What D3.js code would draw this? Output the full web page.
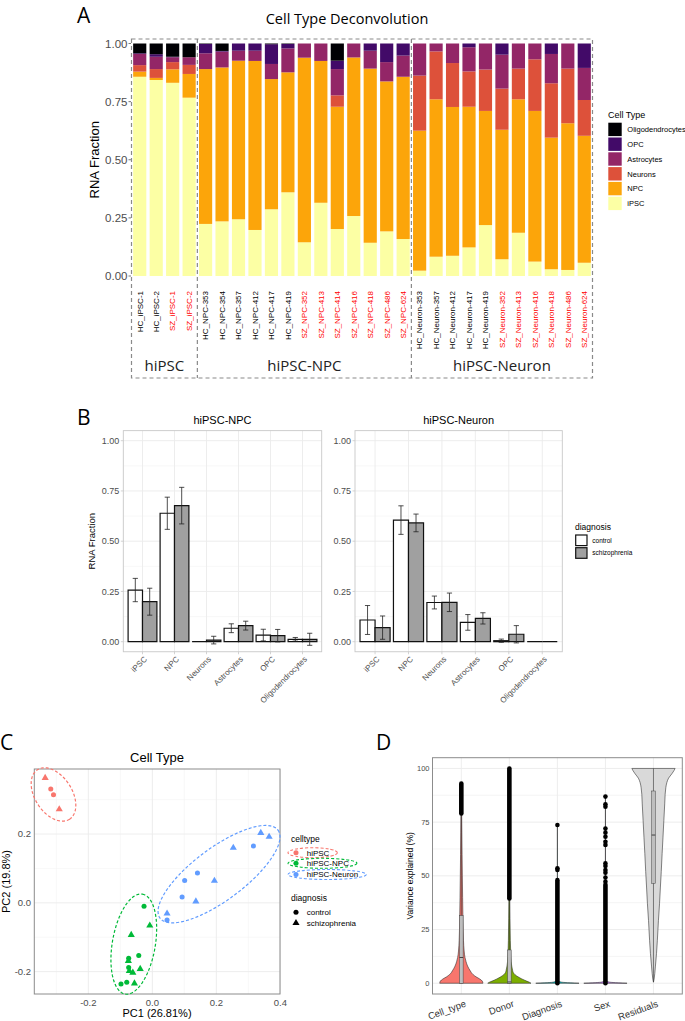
<!DOCTYPE html>
<html>
<head>
<meta charset="utf-8">
<script src="https://cdn.jsdelivr.net/npm/d3@7/dist/d3.min.js"></script>
<style>
body{margin:0;background:#fff;}
</style>
</head>
<body>
<script>
// ---------- panel A data ----------
var cellTypes = ["iPSC", "NPC", "Neurons", "Astrocytes", "OPC", "Oligodendrocytes"];
var cellColors = ["#FCFFA4", "#FCA50A", "#DD513A", "#932667", "#420A68", "#000004"];
var groupNames = ["hiPSC", "hiPSC-NPC", "hiPSC-Neuron"];
var sampleNames = ["HC_iPSC-1","HC_iPSC-2","SZ_iPSC-1","SZ_iPSC-2",
	"HC_NPC-353","HC_NPC-354","HC_NPC-357","HC_NPC-412","HC_NPC-417","HC_NPC-419",
	"SZ_NPC-352","SZ_NPC-413","SZ_NPC-414","SZ_NPC-416","SZ_NPC-418","SZ_NPC-486","SZ_NPC-624",
	"HC_Neuron-353","HC_Neuron-357","HC_Neuron-412","HC_Neuron-417","HC_Neuron-419",
	"SZ_Neuron-352","SZ_Neuron-413","SZ_Neuron-416","SZ_Neuron-418","SZ_Neuron-486","SZ_Neuron-624"];
var sampleGroup = [0,0,0,0, 1,1,1,1,1,1,1,1,1,1,1,1,1, 2,2,2,2,2,2,2,2,2,2,2];
var fracIPSC    = [0.857,0.843,0.831,0.767, 0.224,0.235,0.244,0.198,0.287,0.360,0.145,0.315,0.202,0.258,0.143,0.192,0.159, 0.023,0.083,0.087,0.123,0.219,0.072,0.186,0.062,0.029,0.026,0.057];
var fracNPC     = [0.022,0.009,0.058,0.102, 0.666,0.662,0.682,0.727,0.560,0.516,0.794,0.610,0.526,0.682,0.749,0.645,0.698, 0.602,0.677,0.640,0.605,0.491,0.557,0.574,0.648,0.566,0.631,0.546];
var fracNeurons = [0.028,0.038,0.031,0.039, 0,0,0,0,0,0,0,0,0.049,0,0,0,0, 0.237,0.206,0.189,0.152,0.178,0.177,0.132,0.222,0.234,0.235,0.154];
var fracAstro   = [0.048,0.053,0.021,0.033, 0.068,0.068,0.043,0.044,0.065,0.103,0.061,0.075,0.113,0.060,0.077,0.083,0.091, 0.138,0.034,0.084,0.104,0.112,0.146,0.108,0.068,0.126,0.108,0.138];
var fracOPC     = [0.003,0.011,0.002,0, 0.040,0.003,0.031,0.031,0.085,0.019,0,0,0.036,0,0.031,0.080,0.052, 0,0,0,0.016,0,0.048,0,0,0.045,0,0.105];
var fracOligo   = [0.042,0.046,0.057,0.059, 0.002,0.032,0,0,0.003,0.002,0,0,0.074,0,0,0,0, 0,0,0,0,0,0,0,0,0,0,0];
var fracTicks = [0, 0.25, 0.5, 0.75, 1];

// ---------- panel B data ----------
var npcCtrl    = [0.257, 0.639, 0.000, 0.067, 0.033, 0.012];
var npcCtrlErr = [0.058, 0.080, 0.000, 0.022, 0.029, 0.009];
var npcSz      = [0.199, 0.677, 0.008, 0.080, 0.030, 0.012];
var npcSzErr   = [0.067, 0.091, 0.019, 0.022, 0.031, 0.030];
var neuCtrl    = [0.108, 0.605, 0.195, 0.096, 0.005, 0.000];
var neuCtrlErr = [0.072, 0.071, 0.032, 0.039, 0.008, 0.000];
var neuSz      = [0.070, 0.591, 0.196, 0.116, 0.037, 0.000];
var neuSzErr   = [0.058, 0.044, 0.046, 0.028, 0.043, 0.000];
var diagnoses = ["control", "schizophrenia"];

// ---------- panel C data ----------
var pcaX    = [-0.335,-0.3175,-0.309,-0.291,
	-0.026,-0.0425,-0.074,-0.074,-0.098,-0.080, -0.008,-0.066,-0.075,-0.038,-0.072,-0.061,-0.056,
	0.316,0.141,0.101,0.093,0.046, 0.339,0.365,0.253,0.194,0.136,0.046];
var pcaY    = [0.363,0.331,0.314,0.272,
	-0.010,-0.153,-0.161,-0.188,-0.236,-0.231, -0.066,-0.093,-0.169,-0.192,-0.198,-0.203,-0.234,
	0.165,0.087,0.065,0.017,-0.050, 0.2035,0.192,0.160,0.064,0.004,-0.031];
var pcaType = [0,0,0,0, 1,1,1,1,1,1,1,1,1,1,1,1,1, 2,2,2,2,2,2,2,2,2,2,2];
var pcaDiag = [1,0,0,1, 0,0,0,0,0,0,1,1,1,1,1,1,1, 0,0,0,0,0,1,1,1,1,1,1];
var typeColors = ["#F8766D", "#00BA38", "#619CFF"];
// ellipse per cell type: centre and two conjugate half axes, in PC units
var ellCx = [-0.309, -0.058, 0.2084];
var ellCy = [0.315, -0.120, 0.0834];
var ellAx = [0.0503, 0.027, 0.1844];
var ellAy = [-0.0718, 0.1453, 0.1279];
var ellBx = [-0.0484, 0.0662, 0.0484];
var ellBy = [-0.0294, -0.0106, -0.0608];
var pcTicks = [-0.2, 0, 0.2, 0.4];
var pcMinor = [-0.3, -0.1, 0.1, 0.3];

// ---------- panel D data ----------
var varNames = ["Cell_type", "Donor", "Diagnosis", "Sex", "Residuals"];
var varColors = ["#F8766D", "#7CAE00", "#00BFC4", "#C77CFF", "#D9D9D9"];
var violinCell = [[0,1],[1,0.97],[2,0.85],[3,0.68],[4,0.55],[5,0.46],[6,0.4],[7,0.34],[8,0.29],[10,0.22],[12,0.17],[15,0.13],[20,0.1],[25,0.085],[30,0.075],[40,0.06],[50,0.047],[60,0.035],[70,0.025],[80,0.015],[88,0.008],[93,0]];
var violinDonor = [[0,1],[0.5,0.92],[1,0.8],[2,0.58],[3,0.4],[4,0.26],[5,0.18],[6,0.15],[8,0.11],[10,0.085],[15,0.06],[20,0.045],[30,0.03],[40,0.02],[60,0.012],[80,0.008],[100,0]];
var violinDiag = [[0,1],[0.2,0.6],[0.5,0.2],[1,0.06],[2,0.02],[5,0.01],[20,0.006],[50,0.004],[73.7,0]];
var violinSex = [[0,1],[0.2,0.6],[0.5,0.2],[1,0.06],[2,0.02],[5,0.01],[20,0.006],[50,0.004],[86.9,0]];
var violinResid = [[0.5,0],[2,0.03],[4.5,0.06],[8,0.09],[13.8,0.14],[20,0.18],[29.3,0.23],[37,0.28],[44.8,0.32],[52,0.36],[60.3,0.4],[68,0.44],[75.8,0.48],[83.5,0.52],[88,0.54],[91,0.57],[93.5,0.62],[95.5,0.7],[97.5,0.85],[99,0.95],[100,1]];
var boxLo = [0, 0, 0, 0, 46.5];
var boxMed = [12, 0.6, 0, 0, 69];
var boxHi = [31.5, 15.5, 0, 0, 89.5];
var whiskLo = [0, 0, 0, 0, 0.5];
var whiskHi = [79, 39, 0, 0, 100];
var denseLo = [79, 39.5, 0, 0];
var denseHi = [93, 100, 48, 45.8];
var outVar = [2,2,2, 3,3,3,3,3,3, 3,3,3,3,3, 3,3,3];
var outVal = [52.7,53.5,73.7, 47.3,49.2,51.5,52.7,54.6,55.8, 64.4,65.9,68.2,70.1,72.0, 82.2,83.3,86.9];
var varTicks = [0, 25, 50, 75, 100];

var FONT = '"Liberation Sans", Arial, Helvetica, sans-serif';
var FONT2 = '"Open Sans", "Liberation Sans", sans-serif';

var svg = d3.select('body').append('svg')
	.attr('width', 685).attr('height', 1021)
	.style('font-family', FONT);
svg.append('rect').attr('width', 685).attr('height', 1021).attr('fill', '#fff');

function panelLetter(t, x, y){
	svg.append('text').attr('x', x).attr('y', y).text(t)
		.style('font-family', FONT2).style('font-size', '21px').attr('fill', '#000');
}
panelLetter('A', 77, 22.5);
panelLetter('B', 77, 425);
panelLetter('C', 0, 750);
panelLetter('D', 376, 750);

// ================= PANEL A =================
var gA = svg.append('g');
var xA = d3.scaleBand().domain(sampleNames).range([131.5, 592.5]).paddingInner(0.2).paddingOuter(0.1);
var yA = d3.scaleLinear().domain([0, 1]).range([276, 43.5]);
var color = d3.scaleOrdinal().domain(cellTypes).range(cellColors);

var rowsA = sampleNames.map(function(s, i){
	return {sample: s, iPSC: fracIPSC[i], NPC: fracNPC[i], Neurons: fracNeurons[i],
		Astrocytes: fracAstro[i], OPC: fracOPC[i], Oligodendrocytes: fracOligo[i]};
});
var stackA = d3.stack().keys(cellTypes)(rowsA);

gA.selectAll('g.layer').data(stackA).enter().append('g')
	.attr('fill', function(d){ return color(d.key); })
	.selectAll('rect').data(function(d){ return d; }).enter().append('rect')
	.attr('x', function(d){ return xA(d.data.sample); })
	.attr('width', xA.bandwidth())
	.attr('y', function(d){ return yA(d[1]); })
	.attr('height', function(d){ return Math.max(0, yA(d[0]) - yA(d[1])); });

gA.append('text').attr('x', 347).attr('y', 23.5).attr('text-anchor', 'middle')
	.style('font-family', FONT2).style('font-size', '14.5px').text('Cell Type Deconvolution');

gA.selectAll('line.ytick').data(fracTicks).enter().append('line')
	.attr('x1', 128.5).attr('x2', 131).attr('y1', yA).attr('y2', yA)
	.attr('stroke', '#555').attr('stroke-width', 0.8);
gA.selectAll('text.ytick').data(fracTicks).enter().append('text')
	.attr('x', 127.5).attr('y', yA).attr('dy', '0.35em').attr('text-anchor', 'end')
	.attr('fill', '#4D4D4D').style('font-size', '11.5px')
	.text(function(d){ return d.toFixed(2); });
gA.append('text').attr('transform', 'translate(99,' + yA(0.5) + ') rotate(-90)')
	.attr('text-anchor', 'middle').style('font-size', '13px').text('RNA Fraction');

gA.selectAll('text.sample').data(sampleNames).enter().append('text')
	.attr('transform', function(d){ return 'translate(' + (xA(d) + xA.bandwidth() / 2) + ',291) rotate(-90)'; })
	.attr('text-anchor', 'end').attr('dy', '0.35em').style('font-size', '8px')
	.attr('fill', function(d){ return d.indexOf('SZ') === 0 ? '#FF0000' : '#000'; })
	.text(function(d){ return d; });

// dashed group boxes
var gapA = (xA.step() - xA.bandwidth()) / 2;
var groupBounds = groupNames.map(function(g, gi){
	var idx = sampleNames.filter(function(s, i){ return sampleGroup[i] === gi; });
	return {name: g, x0: xA(idx[0]) - gapA, x1: xA(idx[idx.length - 1]) + xA.bandwidth() + gapA};
});
var boxTop = 39, boxBottom = 378;
gA.append('rect').attr('x', groupBounds[0].x0).attr('y', boxTop)
	.attr('width', groupBounds[2].x1 - groupBounds[0].x0).attr('height', boxBottom - boxTop)
	.attr('fill', 'none').attr('stroke', '#8a8a8a').attr('stroke-width', 1.2).attr('stroke-dasharray', '4,3');
gA.selectAll('line.div').data(groupBounds.slice(1)).enter().append('line')
	.attr('x1', function(d){ return d.x0; }).attr('x2', function(d){ return d.x0; })
	.attr('y1', boxTop).attr('y2', boxBottom)
	.attr('stroke', '#8a8a8a').attr('stroke-width', 1.2).attr('stroke-dasharray', '4,3');
gA.selectAll('text.grp').data(groupBounds).enter().append('text')
	.attr('x', function(d){ return (d.x0 + d.x1) / 2; }).attr('y', 371)
	.attr('text-anchor', 'middle').style('font-family', FONT2).style('font-size', '15px')
	.attr('fill', '#222').text(function(d){ return d.name; });

// legend A
var legA = gA.append('g');
legA.append('text').attr('x', 608).attr('y', 117.5).style('font-size', '9px').text('Cell Type');
var legOrder = cellTypes.slice().reverse();
legA.selectAll('rect').data(legOrder).enter().append('rect')
	.attr('x', 608.3).attr('y', function(d, i){ return 122.7 + i * 14.8; })
	.attr('width', 13.4).attr('height', 13.4).attr('fill', color);
legA.selectAll('text.item').data(legOrder).enter().append('text')
	.attr('x', 627.3).attr('y', function(d, i){ return 122.7 + i * 14.8 + 9.5; })
	.style('font-size', '7.5px').text(function(d){ return d; });

// ================= PANEL B =================
var yB = d3.scaleLinear().domain([0, 1]).range([641.7, 440.7]);
function drawB(x0, x1, title, ctrl, ctrlErr, sz, szErr, axisTitle){
	var g = svg.append('g');
	var x = d3.scalePoint().domain(cellTypes).range([x0, x1]).padding(0.6);
	var step = x.step();
	var top = yB(1.05), bot = yB(-0.05);
	g.selectAll('line.hmin').data([0.125, 0.375, 0.625, 0.875]).enter().append('line')
		.attr('x1', x0).attr('x2', x1).attr('y1', yB).attr('y2', yB)
		.attr('stroke', '#F4F4F4').attr('stroke-width', 0.6);
	g.selectAll('line.hmaj').data(fracTicks).enter().append('line')
		.attr('x1', x0).attr('x2', x1).attr('y1', yB).attr('y2', yB)
		.attr('stroke', '#EBEBEB').attr('stroke-width', 0.9);
	g.selectAll('line.v').data(cellTypes).enter().append('line')
		.attr('x1', x).attr('x2', x).attr('y1', top).attr('y2', bot)
		.attr('stroke', '#EBEBEB').attr('stroke-width', 0.9);
	g.append('rect').attr('x', x0).attr('y', top).attr('width', x1 - x0).attr('height', bot - top)
		.attr('fill', 'none').attr('stroke', '#C8C8C8').attr('stroke-width', 0.9);

	var bw = step * 0.45;
	var bars = [];
	cellTypes.forEach(function(c, i){
		bars.push({cx: x(c) - bw / 2, v: ctrl[i], e: ctrlErr[i], fill: '#FFFFFF'});
		bars.push({cx: x(c) + bw / 2, v: sz[i], e: szErr[i], fill: '#A0A0A0'});
	});
	g.selectAll('path.bar').data(bars).enter().append('path')
		.attr('d', function(d){
			var l = d.cx - bw / 2, r = d.cx + bw / 2;
			return 'M' + l + ',' + yB(0) + 'H' + r + 'V' + yB(d.v) + 'H' + l + 'Z';
		})
		.attr('fill', function(d){ return d.fill; })
		.attr('stroke', '#111').attr('stroke-width', 1.2);
	var eb = bars.filter(function(d){ return d.e > 0; });
	g.selectAll('path.err').data(eb).enter().append('path')
		.attr('d', function(d){
			var a = yB(d.v + d.e), b = yB(d.v - d.e), w = 2.6;
			return 'M' + d.cx + ',' + a + 'V' + b +
				'M' + (d.cx - w) + ',' + a + 'H' + (d.cx + w) +
				'M' + (d.cx - w) + ',' + b + 'H' + (d.cx + w);
		})
		.attr('fill', 'none').attr('stroke', '#222').attr('stroke-width', 0.8);

	g.selectAll('text.yt').data(fracTicks).enter().append('text')
		.attr('x', x0 - 4).attr('y', yB).attr('dy', '0.35em').attr('text-anchor', 'end')
		.attr('fill', '#4D4D4D').style('font-size', '9px')
		.text(function(d){ return d.toFixed(2); });
	g.selectAll('line.yt').data(fracTicks).enter().append('line')
		.attr('x1', x0 - 2.5).attr('x2', x0).attr('y1', yB).attr('y2', yB)
		.attr('stroke', '#C8C8C8').attr('stroke-width', 0.8);
	g.selectAll('line.xt').data(cellTypes).enter().append('line')
		.attr('x1', x).attr('x2', x).attr('y1', bot).attr('y2', bot + 2.5)
		.attr('stroke', '#C8C8C8').attr('stroke-width', 0.8);
	g.selectAll('text.xt').data(cellTypes).enter().append('text')
		.attr('transform', function(d){ return 'translate(' + (x(d) + 3) + ',' + (bot + 6) + ') rotate(-45)'; })
		.attr('text-anchor', 'end').attr('dy', '0.35em').attr('fill', '#4D4D4D')
		.style('font-size', '8px').text(function(d){ return d; });
	g.append('text').attr('x', (x0 + x1) / 2).attr('y', 424).attr('text-anchor', 'middle')
		.style('font-size', '11px').text(title);
	if(axisTitle){
		g.append('text').attr('transform', 'translate(94.5,' + yB(0.5) + ') rotate(-90)')
			.attr('text-anchor', 'middle').style('font-size', '9.5px').text(axisTitle);
	}
}
drawB(123.3, 321.7, 'hiPSC-NPC', npcCtrl, npcCtrlErr, npcSz, npcSzErr, 'RNA Fraction');
drawB(355, 562.3, 'hiPSC-Neuron', neuCtrl, neuCtrlErr, neuSz, neuSzErr, null);

var legB = svg.append('g');
legB.append('text').attr('x', 575).attr('y', 529.5).style('font-size', '8.5px').text('diagnosis');
legB.selectAll('rect').data(diagnoses).enter().append('rect')
	.attr('x', 575.7).attr('y', function(d, i){ return 535 + i * 12.7; })
	.attr('width', 11.3).attr('height', 10.6)
	.attr('fill', function(d, i){ return i ? '#A0A0A0' : '#FFFFFF'; })
	.attr('stroke', '#111').attr('stroke-width', 1.2);
legB.selectAll('text.item').data(diagnoses).enter().append('text')
	.attr('x', 592.3).attr('y', function(d, i){ return 540.3 + i * 12.7; }).attr('dy', '0.35em')
	.style('font-size', '6.5px').text(function(d){ return d; });

// ================= PANEL C =================
var gC = svg.append('g');
var xC = d3.scaleLinear().domain([-0.369, 0.399]).range([34.3, 280]);
var yC = d3.scaleLinear().domain([-0.265, 0.389]).range([994, 769]);
gC.selectAll('line.xmin').data(pcMinor).enter().append('line')
	.attr('x1', xC).attr('x2', xC).attr('y1', 769).attr('y2', 994).attr('stroke', '#F4F4F4').attr('stroke-width', 0.6);
gC.selectAll('line.ymin').data([-0.1, 0.1, 0.3]).enter().append('line')
	.attr('x1', 34.3).attr('x2', 280).attr('y1', yC).attr('y2', yC).attr('stroke', '#F4F4F4').attr('stroke-width', 0.6);
gC.selectAll('line.xmaj').data(pcTicks).enter().append('line')
	.attr('x1', xC).attr('x2', xC).attr('y1', 769).attr('y2', 994).attr('stroke', '#EBEBEB').attr('stroke-width', 0.9);
gC.selectAll('line.ymaj').data([-0.2, 0, 0.2]).enter().append('line')
	.attr('x1', 34.3).attr('x2', 280).attr('y1', yC).attr('y2', yC).attr('stroke', '#EBEBEB').attr('stroke-width', 0.9);
gC.append('rect').attr('x', 34.3).attr('y', 769).attr('width', 280 - 34.3).attr('height', 994 - 769)
	.attr('fill', 'none').attr('stroke', '#8C8C8C').attr('stroke-width', 1);

var tSteps = d3.range(0, 101).map(function(k){ return k / 100 * 2 * Math.PI; });
var ellLine = d3.line().curve(d3.curveLinearClosed);
gC.selectAll('path.ell').data(typeColors).enter().append('path')
	.attr('d', function(c, i){
		return ellLine(tSteps.map(function(t){
			return [xC(ellCx[i] + ellAx[i] * Math.cos(t) + ellBx[i] * Math.sin(t)),
				yC(ellCy[i] + ellAy[i] * Math.cos(t) + ellBy[i] * Math.sin(t))];
		}));
	})
	.attr('fill', 'none').attr('stroke', function(c){ return c; })
	.attr('stroke-width', 1.2).attr('stroke-dasharray', '3,2');

var circleSym = d3.symbol().type(d3.symbolCircle).size(20);
var triSym = d3.symbol().type(d3.symbolTriangle).size(22);
gC.selectAll('path.pt').data(pcaX).enter().append('path')
	.attr('transform', function(d, i){ return 'translate(' + xC(d) + ',' + yC(pcaY[i]) + ')'; })
	.attr('d', function(d, i){ return pcaDiag[i] ? triSym() : circleSym(); })
	.attr('fill', function(d, i){ return typeColors[pcaType[i]]; });

gC.selectAll('text.xt').data(pcTicks).enter().append('text')
	.attr('x', xC).attr('y', 1006).attr('text-anchor', 'middle').attr('fill', '#4D4D4D')
	.style('font-size', '9.5px').text(function(d){ return d.toFixed(1); });
gC.selectAll('text.yt').data([-0.2, 0, 0.2]).enter().append('text')
	.attr('x', 31).attr('y', yC).attr('dy', '0.35em').attr('text-anchor', 'end').attr('fill', '#4D4D4D')
	.style('font-size', '9.5px').text(function(d){ return d.toFixed(1); });
gC.append('text').attr('x', 157).attr('y', 1017).attr('text-anchor', 'middle')
	.style('font-size', '11px').text('PC1 (26.81%)');
gC.append('text').attr('transform', 'translate(10,' + ((769 + 994) / 2) + ') rotate(-90)')
	.attr('text-anchor', 'middle').style('font-size', '11px').text('PC2 (19.8%)');
gC.append('text').attr('x', 157).attr('y', 762).attr('text-anchor', 'middle')
	.style('font-size', '13px').text('Cell Type');

// legend C
var legC = gC.append('g');
legC.append('text').attr('x', 291).attr('y', 842).style('font-size', '8.5px').text('celltype');
var legCy = [852.7, 863.3, 874.5];
groupNames.forEach(function(name, i){
	var t = legC.append('text').attr('x', 306.7).attr('y', legCy[i]).attr('dy', '0.35em')
		.style('font-size', '8px').text(name);
	var tw = t.node().getComputedTextLength();
	var l = 288, r = 306.7 + tw + 8;
	legC.append('ellipse').attr('cx', (l + r) / 2).attr('cy', legCy[i])
		.attr('rx', (r - l) / 2).attr('ry', 5)
		.attr('fill', 'none').attr('stroke', typeColors[i]).attr('stroke-width', 1.1).attr('stroke-dasharray', '3,2');
	legC.append('path').attr('transform', 'translate(296,' + legCy[i] + ')')
		.attr('d', circleSym()).attr('fill', typeColors[i]);
});
legC.append('text').attr('x', 291).attr('y', 901).style('font-size', '8.5px').text('diagnosis');
diagnoses.forEach(function(name, i){
	var yy = 912.3 + i * 10.7;
	legC.append('path').attr('transform', 'translate(296,' + yy + ')')
		.attr('d', i ? triSym() : circleSym()).attr('fill', '#000');
	legC.append('text').attr('x', 306.7).attr('y', yy).attr('dy', '0.35em')
		.style('font-size', '8px').text(name);
});

// ================= PANEL D =================
var gD = svg.append('g');
var xD = d3.scalePoint().domain(varNames).range([432.5, 682.3]).padding(0.6);
var yD = d3.scaleLinear().domain([-5, 105]).range([994, 757.7]);
var halfW = xD.step() * 0.45;
gD.selectAll('line.h').data(d3.range(0, 101, 12.5)).enter().append('line')
	.attr('x1', 432.5).attr('x2', 682.3).attr('y1', yD).attr('y2', yD)
	.attr('stroke', function(d){ return d % 25 === 0 ? '#EBEBEB' : '#F4F4F4'; }).attr('stroke-width', 0.9);
gD.selectAll('line.v').data(varNames).enter().append('line')
	.attr('x1', xD).attr('x2', xD).attr('y1', 757.7).attr('y2', 994)
	.attr('stroke', '#EBEBEB').attr('stroke-width', 0.9);

var violins = [violinCell, violinDonor, violinDiag, violinSex, violinResid];
violins.forEach(function(prof, i){
	var cx = xD(varNames[i]);
	var area = d3.area().curve(d3.curveMonotoneY)
		.y(function(d){ return yD(d[0]); })
		.x0(function(d){ return cx - halfW * d[1]; })
		.x1(function(d){ return cx + halfW * d[1]; });
	gD.append('path').attr('d', area(prof)).attr('fill', varColors[i])
		.attr('stroke', '#333').attr('stroke-width', 0.6);
});

// whiskers, boxes, outliers
varNames.forEach(function(v, i){
	var cx = xD(v);
	gD.append('line').attr('x1', cx).attr('x2', cx).attr('y1', yD(whiskLo[i])).attr('y2', yD(whiskHi[i]))
		.attr('stroke', '#333').attr('stroke-width', 0.6);
	if(boxHi[i] > boxLo[i]){
		gD.append('rect').attr('x', cx - 1.8).attr('width', 3.6)
			.attr('y', yD(boxHi[i])).attr('height', yD(boxLo[i]) - yD(boxHi[i]))
			.attr('fill', '#BEBEBE').attr('stroke', '#444').attr('stroke-width', 0.5);
		gD.append('line').attr('x1', cx - 1.8).attr('x2', cx + 1.8)
			.attr('y1', yD(boxMed[i])).attr('y2', yD(boxMed[i]))
			.attr('stroke', '#222').attr('stroke-width', 0.8);
	}
});
gD.selectAll('line.dense').data(denseLo).enter().append('line')
	.attr('x1', function(d, i){ return xD(varNames[i]); })
	.attr('x2', function(d, i){ return xD(varNames[i]); })
	.attr('y1', function(d){ return yD(d); })
	.attr('y2', function(d, i){ return yD(denseHi[i]); })
	.attr('stroke', '#000').attr('stroke-width', 4.6).attr('stroke-linecap', 'round');
gD.selectAll('circle.out').data(outVal).enter().append('circle')
	.attr('cx', function(d, i){ return xD(varNames[outVar[i]]); })
	.attr('cy', yD).attr('r', 2.3).attr('fill', '#000');

gD.append('rect').attr('x', 432.5).attr('y', 757.7).attr('width', 682.3 - 432.5).attr('height', 994 - 757.7)
	.attr('fill', 'none').attr('stroke', '#8C8C8C').attr('stroke-width', 1);
gD.selectAll('text.yt').data(varTicks).enter().append('text')
	.attr('x', 429.5).attr('y', yD).attr('dy', '0.35em').attr('text-anchor', 'end')
	.attr('fill', '#4D4D4D').style('font-size', '7.5px').text(function(d){ return d; });
gD.selectAll('text.xt').data(varNames).enter().append('text')
	.attr('transform', function(d){ return 'translate(' + (xD(d) + 3) + ',1000) rotate(-20)'; })
	.attr('text-anchor', 'end').attr('dy', '0.7em').attr('fill', '#333')
	.style('font-size', '9.5px').text(function(d){ return d; });
gD.append('text').attr('transform', 'translate(413,' + ((757.7 + 994) / 2) + ') rotate(-90)')
	.attr('text-anchor', 'middle').style('font-size', '8.5px').text('Variance explained (%)');
</script>
</body>
</html>
